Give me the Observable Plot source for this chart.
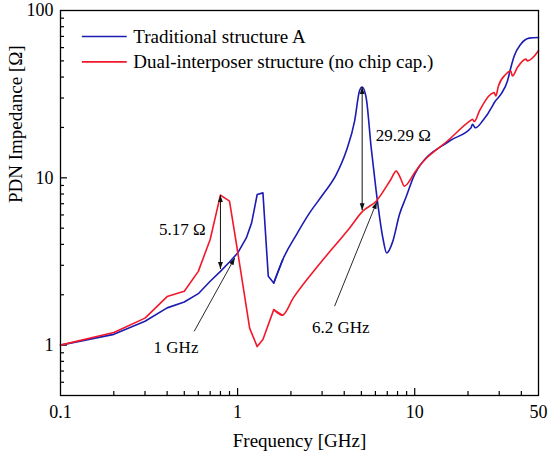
<!DOCTYPE html>
<html><head><meta charset="utf-8">
<script src="https://cdn.jsdelivr.net/npm/d3@7"></script>
<script src="https://cdn.jsdelivr.net/npm/@observablehq/plot@0.6"></script>
<style>body{margin:0;background:#fff} svg text{font-family:"Liberation Serif","DejaVu Serif",serif !important;}</style>
</head><body><div id="chart"></div>
<script>
// Traditional structure A (blue)
const freqA = [0.1,0.2,0.3,0.4,0.5,0.6,0.7,0.8,0.9,1.0,1.12,1.2,1.29,1.39,1.49,1.6,1.8,2.15,2.55,3.03,3.61,4.11,4.58,4.88,5.05,5.32,5.68,6.06,6.61,6.95,7.52,8.2,8.95,10,15.7,20.8,21.2,22.0,24.2,27.5,28.1,30.7,33.4,34.9,36.5,39.7,44.3,50];
const zA    = [1.0,1.16,1.39,1.67,1.81,2.03,2.41,2.76,3.14,3.55,4.37,5.38,7.95,8.13,2.58,2.35,3.25,4.58,6.17,7.94,10.47,14.5,21.9,33.1,34.9,30.1,15.1,8.32,4.37,3.55,4.17,6.03,7.7,10.5,16.6,19.9,20.9,19.9,21.9,26.9,28.1,31.6,37.9,45.6,53.6,62.9,68.4,69.0];
// Dual-interposer structure (red)
const freqB = [0.1,0.2,0.3,0.4,0.5,0.6,0.7,0.8,0.9,1.0,1.17,1.29,1.39,1.6,1.79,2.06,2.78,4.29,5.09,6.06,7.3,7.86,8.3,8.75,9.3,9.96,15.7,20.8,21.2,21.7,23.2,26.9,28.1,28.7,29.7,32.7,34.9,35.6,38.0,42.4,43.3,50];
const zB    = [1.0,1.19,1.45,1.95,2.10,2.76,4.28,7.88,7.25,3.64,1.26,0.98,1.08,1.63,1.51,1.91,2.89,5.02,6.32,7.25,9.7,10.97,10.0,8.92,9.5,10.7,17.0,22.1,22.4,21.7,25.1,31.6,32.3,30.8,35.4,41.6,43.5,40.6,45.6,51.2,50.0,57.5];

const seriesNames = ["Traditional structure A", "Dual-interposer structure (no chip cap.)"];
const seriesColors = ["#1c1cb2", "#f2182a"];

const xTickLabels = [0.1, 1, 10, 50];
const yTickLabels = [1, 10, 100];
const xMajor = [1, 10];
const xMinor = [0.2,0.3,0.4,0.5,0.6,0.7,0.8,0.9,2,3,4,5,6,7,8,9,20,30,40];
const yMajor = [1, 10];
const yMinor = [0.6,0.7,0.8,0.9,2,3,4,5,6,7,8,9,20,30,40,50,60,70,80,90];

// annotations
const dblArrows = [
  {x: 0.8, top: 7.88, bottom: 2.85},
  {x: 5.05, top: 34.9, bottom: 6.4}
];
const pointerArrows = [
  {x1: 0.569, y1: 1.21, x2: 0.964, y2: 3.32},
  {x1: 3.53, y1: 1.71, x2: 6.11, y2: 7.18}
];
const annoTexts = [
  {x: 0.488, y: 4.93, t: "5.17 Ω"},
  {x: 8.63, y: 17.8, t: "29.29 Ω"},
  {x: 0.449, y: 0.969, t: "1 GHz"},
  {x: 3.82, y: 1.28, t: "6.2 GHz"}
];
// legend (placed in data coordinates inside the frame)
const legendRows = [
  {x1: 0.132, x2: 0.2366, y: 69.9, tx: 0.2575},
  {x1: 0.132, x2: 0.2366, y: 49.3, tx: 0.2575}
];

const split = 1.8; // piecewise-linear below, smooth above
const dataA = freqA.map((f, i) => ({f, z: zA[i]}));
const dataB = freqB.map((f, i) => ({f, z: zB[i]}));
const lowA = dataA.filter(d => d.f <= split), highA = dataA.filter(d => d.f >= 1.6);
const lowB = dataB.filter(d => d.f <= split), highB = dataB.filter(d => d.f >= 1.6);

const W = 550, H = 457, mL = 60, mR = 12, mT = 10, mB = 62;
const pw = W - mL - mR, ph = H - mT - mB;
const font = "'Liberation Serif', 'DejaVu Serif', serif";
const fs = 18;

function triMarker(color, context) {
  const doc = context.document;
  const ns = "http://www.w3.org/2000/svg";
  const m = doc.createElementNS(ns, "marker");
  m.setAttribute("viewBox", "0 -5 10 10");
  m.setAttribute("markerWidth", 7);
  m.setAttribute("markerHeight", 7);
  m.setAttribute("refX", 10);
  m.setAttribute("refY", 0);
  m.setAttribute("orient", "auto-start-reverse");
  m.setAttribute("markerUnits", "userSpaceOnUse");
  m.setAttribute("fill", color);
  m.setAttribute("stroke", "none");
  const p = doc.createElementNS(ns, "path");
  p.setAttribute("d", "M0,-3.5L10,0L0,3.5Z");
  m.appendChild(p);
  return m;
}

const T = {fontFamily: font, fill: "black"};

const chart = Plot.plot({
  width: W, height: H,
  marginLeft: mL, marginRight: mR, marginTop: mT, marginBottom: mB,
  style: {fontFamily: font, background: "#fff"},
  x: {type: "log", domain: [0.1, 50], axis: null},
  y: {type: "log", domain: [0.5, 100], axis: null},
  marks: [
    // inward ticks
    Plot.tickX(xMajor, {x: d => d, insetTop: ph - 7, stroke: "black", strokeWidth: 1.2}),
    Plot.tickX(xMinor, {x: d => d, insetTop: ph - 4, stroke: "black", strokeWidth: 1.2}),
    Plot.tickY(yMajor, {y: d => d, insetRight: pw - 7, stroke: "black", strokeWidth: 1.2}),
    Plot.tickY(yMinor, {y: d => d, insetRight: pw - 4, stroke: "black", strokeWidth: 1.2}),
    // tick labels
    Plot.text(xTickLabels, {...T, x: d => d, frameAnchor: "bottom", dy: 17, lineAnchor: "middle", text: d => String(d), fontSize: fs}),
    Plot.text(yTickLabels, {...T, y: d => d, frameAnchor: "left", dx: -7, textAnchor: "end", lineAnchor: "middle", text: d => String(d), fontSize: fs}),
    // axis labels
    Plot.text(["Frequency [GHz]"], {...T, frameAnchor: "bottom", dy: 45, lineAnchor: "middle", fontSize: fs + 1}),
    Plot.text(["PDN Impedance [Ω]"], {...T, frameAnchor: "left", dx: -45, rotate: -90, lineAnchor: "middle", fontSize: fs + 1}),
    // curves
    Plot.line(lowA, {x: "f", y: "z", stroke: seriesColors[0], strokeWidth: 1.6}),
    Plot.line(highA, {x: "f", y: "z", stroke: seriesColors[0], strokeWidth: 1.6, curve: "monotone-x"}),
    Plot.line(lowB, {x: "f", y: "z", stroke: seriesColors[1], strokeWidth: 1.6}),
    Plot.line(highB, {x: "f", y: "z", stroke: seriesColors[1], strokeWidth: 1.6, curve: "monotone-x"}),
    // annotations
    Plot.link(dblArrows, {x1: "x", x2: "x", y1: "bottom", y2: "top", stroke: "#111", strokeWidth: 1, markerStart: triMarker, markerEnd: triMarker}),
    Plot.link(pointerArrows, {x1: "x1", y1: "y1", x2: "x2", y2: "y2", stroke: "#111", strokeWidth: 0.9, markerEnd: triMarker}),
    Plot.text(annoTexts, {...T, x: "x", y: "y", text: "t", fontSize: fs - 1, lineAnchor: "middle"}),
    // legend
    Plot.link(legendRows, {x1: "x1", x2: "x2", y1: "y", y2: "y", stroke: (d, i) => seriesColors[i], strokeWidth: 1.6}),
    Plot.text(legendRows, {...T, x: "tx", y: "y", text: (d, i) => seriesNames[i], textAnchor: "start", lineAnchor: "middle", fontSize: fs + 1}),
    Plot.frame({stroke: "black", strokeWidth: 1.3})
  ]
});
document.getElementById("chart").appendChild(chart);
</script>
</body></html>
